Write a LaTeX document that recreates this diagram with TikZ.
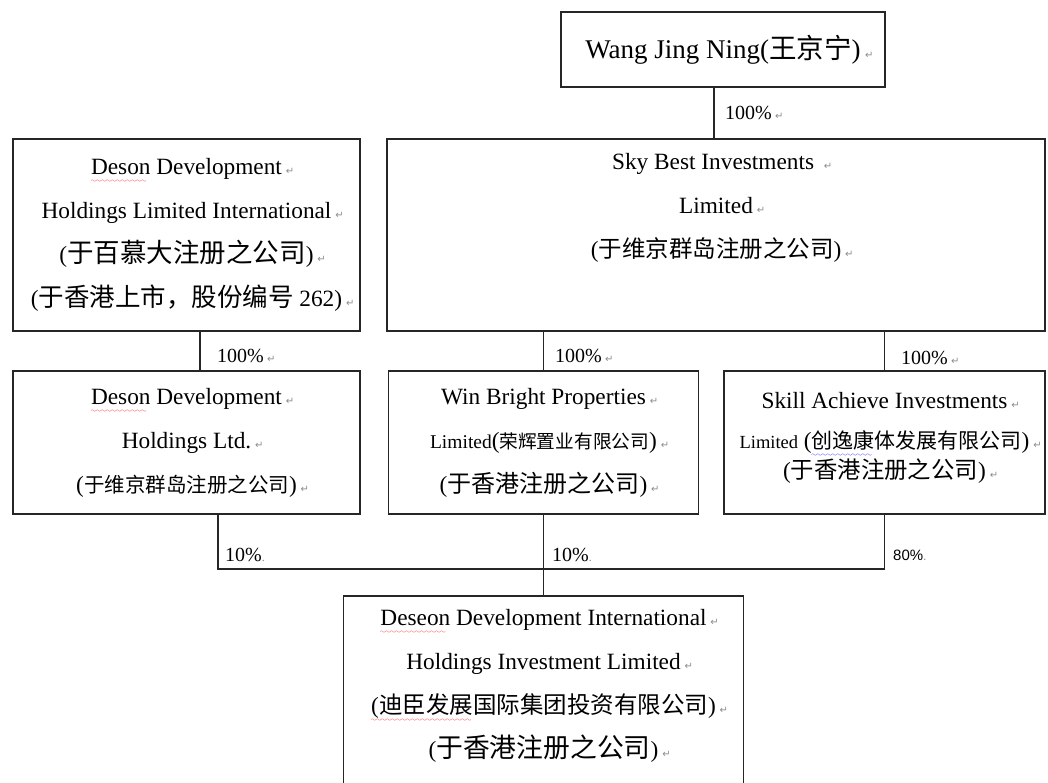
\documentclass[tikz,border=0pt]{standalone}
\usepackage{fontspec}
\setmainfont{Liberation Serif}
\newfontfamily\cjk{Noto Sans CJK SC}
\newfontfamily\retfont{DejaVu Sans}
\newfontfamily\pctsans{Liberation Sans}
\usetikzlibrary{positioning}

\font\wavefont=lasy6
\newsavebox\wavebox
\newcommand\zh[2][23.5]{{\cjk\fontsize{#1}{#1}\selectfont #2}}
\newcommand\smallsz[2]{{\fontsize{#1}{#1}\selectfont #2}}
\newcommand\retmark{\rlap{\,\textcolor{black!45}{\retfont\fontsize{10}{10}\selectfont ↵}}}
\newcommand\dotmark{\rlap{\textcolor{black!45}{\fontsize{12}{12}\selectfont .}}}
\newcommand\wavy[2]{\sbox\wavebox{#2}\rlap{\color{#1}\raisebox{-8pt}{\hbox to\wd\wavebox{\leaders\hbox{\wavefont\char58}\hfil}}}\usebox\wavebox}

\begin{document}
\begin{tikzpicture}[x=1pt,y=-1pt]
\tikzstyle{firm}=[rectangle,draw=black!85,line width=1.3pt,inner sep=0pt,align=center,font=\fontsize{23.3}{44}\selectfont]
\tikzstyle{firmtext}=[inner sep=0pt,align=center,font=\fontsize{23.3}{44}\selectfont]
\tikzstyle{link}=[draw=black!85,line width=1.3pt]
\tikzstyle{pct}=[anchor=west,inner sep=0pt,font=\fontsize{20}{20}\selectfont]

\useasboundingbox (0,0) rectangle (1048,783);
\fill[white] (0,0) rectangle (1048,783);

\node[firm,minimum width=324pt,minimum height=75pt,font=\fontsize{27}{30}\selectfont] (wang) at (723,49.5)
  {Wang Jing Ning(\zh[27.5]{王京宁})\retmark};

\node[firm,minimum width=347pt,minimum height=192pt] (ddhi) at (186.5,235)
  {\wavy{red}{Deson} Development\retmark\\
   Holdings Limited International\retmark\\
   (\zh[26.5]{于百慕大注册之公司})\retmark\\
   (\zh[25.5]{于香港上市，股份编号} 262)\retmark};

\node[firm,minimum width=658pt,minimum height=192pt] (sky) at (716,235) {};
\node[firmtext] (skyT) at (716,207.5)
  {Sky Best Investments\ \retmark\\
   Limited\retmark\\
   (\zh[23.5]{于维京群岛注册之公司})\retmark};

\node[firm,minimum width=347pt,minimum height=143pt] (ddh) at (186.5,442.5)
  {\wavy{red}{Deson} Development\retmark\\
   Holdings Ltd.\retmark\\
   (\zh[20.5]{于维京群岛注册之公司})\retmark};

\node[firm,minimum width=310pt,minimum height=143pt] (win) at (543.5,442.5)
  {Win Bright Properties\retmark\\
   \smallsz{19.5}{Limited}(\zh[18.7]{荣辉置业有限公司})\retmark\\
   (\zh[24]{于香港注册之公司})\retmark};

\node[firm,minimum width=321pt,minimum height=143pt] (skill) at (884.5,442.5) {};
\node[firmtext] (skillT) at (884.5,438)
  {Skill Achieve Investments\retmark\\[-4pt]
   \smallsz{18.5}{Limited} (\wavy{blue}{\zh[21]{创逸康}}\zh[21]{体发展有限公司})\retmark\\[-14pt]
   (\zh[23.4]{于香港注册之公司})\retmark};

\node[firm,minimum width=400pt,minimum height=204pt] (deseon) at (543.5,698) {};
\node[firmtext] (deseonT) at (543.5,685.5)
  {\wavy{red}{Deseon} Development International\retmark\\
   Holdings Investment Limited\retmark\\
   \wavy{red}{(\zh[23.5]{迪臣发展}}\zh[23.5]{国际集团投资有限公司})\retmark\\
   (\zh[26.8]{于香港注册之公司})\retmark};

\draw[link] ([xshift=-9pt]wang.south) -- ([xshift=-9pt]wang.south |- sky.north);
\draw[link] ([xshift=13.5pt]ddhi.south) -- ([xshift=13.5pt]ddh.north);
\draw[link] (sky.south -| win.north) -- (win.north);
\draw[link] (sky.south -| skill.north) -- (skill.north);
\coordinate (bus) at (543.5,569);
\draw[link] ([xshift=31.5pt]ddh.south) |- (bus) -| (skill.south);
\draw[link] (win.south) -- (deseon.north);

\node[pct] (p0) at (725,113) {100\%\retmark};
\node[pct] (p1) at (217,356) {100\%\retmark};
\node[pct] (p2) at (555,356) {100\%\retmark};
\node[pct] (p3) at (901,358) {100\%\retmark};
\node[pct] (p4) at (225,555) {10\%\dotmark};
\node[pct] (p5) at (552,555) {10\%\dotmark};
\node[pct,font=\pctsans\fontsize{15}{15}\selectfont] (p6) at (893,555) {80\%\dotmark};
\end{tikzpicture}
\end{document}
